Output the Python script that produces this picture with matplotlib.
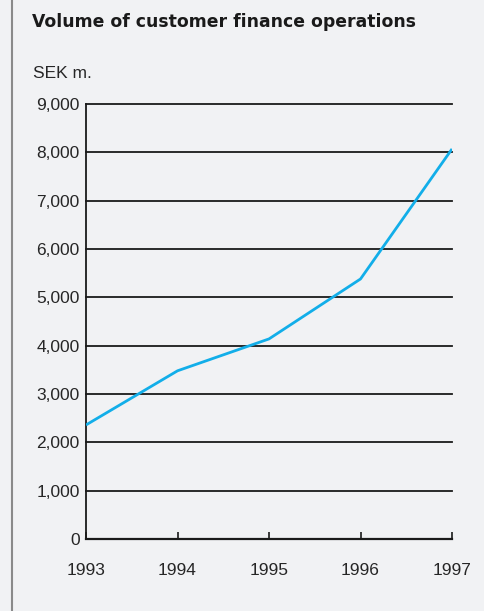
import matplotlib.pyplot as plt
from matplotlib.lines import Line2D

# data (SEK m.)
years = [1993, 1994, 1995, 1996, 1997]
volume = [2360, 3480, 4140, 5380, 8070]
y_ticks = [0, 1000, 2000, 3000, 4000, 5000, 6000, 7000, 8000, 9000]

bg = '#f1f2f4'
plt.rcParams['font.family'] = ['Liberation Sans', 'DejaVu Sans']

fig = plt.figure(figsize=(4.84, 6.11), dpi=100)
fig.patch.set_facecolor(bg)

ax = fig.add_axes([0.1777, 0.1178, 0.7562, 0.712])
ax.set_facecolor(bg)

ax.plot(years, volume, color='#12aee9', linewidth=2.0, solid_capstyle='butt', zorder=3)

ax.set_xlim(1993, 1997)
ax.set_ylim(0, 9000)
ax.set_yticks(y_ticks)
ax.set_yticklabels([f'{v:,}' for v in y_ticks])
ax.set_xticks(years)
ax.set_xticklabels([str(y) for y in years])

for v in y_ticks[1:]:
    ax.axhline(v, color='#1a1a1a', linewidth=1.3, zorder=1, clip_on=False)

for s in ['top', 'right']:
    ax.spines[s].set_visible(False)
ax.spines['left'].set_linewidth(1.3)
ax.spines['bottom'].set_linewidth(1.6)
ax.spines['left'].set_color('#1a1a1a')
ax.spines['bottom'].set_color('#1a1a1a')

ax.tick_params(axis='y', length=0, pad=4.5, labelsize=12.5, labelcolor='#262626')
ax.tick_params(axis='x', direction='in', length=5, width=1.2, pad=17.5,
               labelsize=12.5, labelcolor='#262626', color='#1a1a1a')

fig.text(32 / 484, 1 - 22 / 611, 'Volume of customer finance operations',
         fontsize=12.4, fontweight='bold', color='#1a1a1a', va='center', ha='left',
         family='DejaVu Sans')
fig.text(33 / 484, 1 - 74 / 611, 'SEK m.', fontsize=12.5, color='#262626',
         va='center', ha='left')

# left border line
fig.add_artist(Line2D([11.5 / 484, 11.5 / 484], [0, 1], transform=fig.transFigure,
                      color='#8a8a8a', linewidth=1.5))

fig.savefig('out.png', dpi=100, facecolor=bg)
